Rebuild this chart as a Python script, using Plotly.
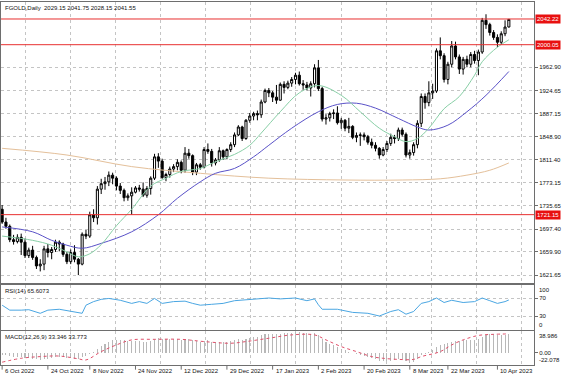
import plotly.graph_objects as go
import pandas as pd

# ---------------- data ----------------
dates = [d for d in pd.bdate_range("2022-10-06", "2023-04-13")
         if d.strftime("%Y-%m-%d") not in ("2022-12-26", "2023-01-02")]

opens = [1730,1709,1702,1680,1677,1684,1676,1654,1663,1651,1637,1640,1665,1659,1664,1676,1673,1656,
         1644,1659,1648,1640,1689,1686,1721,1716,1763,1772,1775,1786,1781,1768,1761,1749,1752,1758,1765,1763,1753,1764,
         1781,1816,1809,1782,1787,1796,1800,1807,1794,1822,1818,1791,1803,1799,1828,1825,1806,1811,1826,1816,1828,
         1836,1852,1865,1846,1876,1883,1887,1885,1906,1925,1921,1914,1909,1935,1930,1937,1943,1950,1936,1934,1929,
         1936,1962,1928,1878,1880,1887,1888,1872,1876,1863,1866,1848,1851,1852,1849,1840,1835,1830,1819,1828,
         1838,1848,1846,1860,1853,1819,1823,1836,1871,1915,1905,1921,1924,1990,1982,1943,1968,1998,1980,1960,1976,1968,1984,
         1974,1988,2040,2033,2020,2012,2004,2018,2029.15]
highs = [1737,1716,1705,1688,1689,1690,1682,1667,1670,1654,1648,1670,1673,1668,1680,1679,1675,1660,
         1664,1671,1650,1692,1696,1726,1730,1768,1780,1783,1792,1790,1784,1773,1764,1756,1766,1768,1770,1774,1768,1784,
         1821,1822,1813,1790,1800,1804,1812,1810,1832,1829,1820,1806,1806,1832,1838,1829,1814,1832,1828,1830,1840,
         1856,1868,1867,1878,1888,1890,1892,1910,1928,1929,1924,1934,1938,1940,1941,1947,1954,1956,1942,1939,1940,
         1968,1975,1931,1886,1890,1894,1899,1880,1878,1880,1868,1856,1856,1856,1852,1846,1840,1832,1832,1842,
         1854,1852,1864,1864,1856,1828,1840,1876,1920,1920,1940,1936,1994,2012,1986,1972,2006,2005,1984,1980,1982,1988,1990,
         1992,2044,2050,2036,2024,2017,2022,2040,2041.75]
lows = [1706,1698,1676,1672,1674,1655,1650,1650,1647,1632,1628,1630,1651,1648,1660,1661,1652,1640,
        1640,1643,1622,1638,1681,1683,1709,1705,1755,1762,1768,1771,1761,1755,1743,1744,1721,1756,1759,1750,1749,1754,
        1778,1798,1780,1776,1782,1791,1794,1789,1790,1813,1786,1786,1795,1797,1821,1800,1802,1808,1811,1812,1824,
        1832,1850,1842,1844,1872,1876,1876,1880,1904,1914,1906,1903,1908,1920,1927,1931,1935,1933,1926,1925,1915,
        1930,1924,1874,1869,1874,1878,1869,1862,1858,1855,1845,1840,1834,1843,1836,1830,1825,1813,1817,1824,
        1834,1838,1842,1849,1815,1813,1818,1830,1865,1895,1899,1911,1921,1976,1938,1935,1963,1976,1952,1951,1963,1963,1969,
        1950,1985,2026,2015,2008,1996,2000,2014,2028.15]
closes = [1709,1702,1680,1677,1684,1676,1654,1663,1651,1637,1640,1665,1659,1664,1676,1673,1656,1644,
          1659,1648,1640,1689,1686,1721,1716,1763,1772,1775,1786,1781,1768,1761,1749,1752,1758,1765,1763,1753,1764,1781,
          1816,1809,1782,1787,1796,1800,1807,1794,1822,1818,1791,1803,1799,1828,1825,1806,1811,1826,1816,1828,1836,
          1852,1865,1846,1876,1883,1887,1885,1906,1925,1921,1914,1909,1935,1930,1937,1943,1950,1936,1934,1929,1936,
          1962,1928,1878,1880,1887,1888,1872,1876,1863,1866,1848,1851,1852,1849,1840,1835,1830,1819,1828,1838,
          1848,1846,1860,1853,1819,1823,1836,1871,1915,1905,1921,1924,1990,1982,1943,1968,1998,1980,1960,1976,1968,1984,1974,
          1988,2040,2033,2020,2012,2004,2018,2029,2041.55]

ma_fast_idx = [0, 8, 13, 17, 20, 23, 26, 30, 34, 39, 43, 47, 52, 56, 61, 65, 68, 73, 78, 83, 89, 94, 99, 103, 106, 109, 112, 116, 120, 124, 126, 130, 133]
ma_fast_val = [1686, 1679, 1671, 1660, 1652, 1657, 1672, 1703, 1730, 1768, 1781, 1792, 1797, 1808, 1820, 1835, 1855, 1890, 1921, 1933, 1917, 1890, 1863, 1849, 1841, 1846, 1863, 1895, 1915, 1950, 1972, 1996, 2008]
ma_mid_idx = [0, 8, 13, 17, 21, 26, 34, 41, 46, 52, 56, 61, 66, 70, 76, 83, 88, 93, 98, 104, 109, 112, 117, 122, 127, 133]
ma_mid_val = [1701, 1693, 1679, 1671, 1666, 1674, 1693, 1721, 1748, 1775, 1789, 1797, 1816, 1835, 1863, 1890, 1902, 1904, 1896, 1879, 1865, 1860, 1868, 1890, 1917, 1956]
ma_slow_idx = [0, 17, 34, 52, 70, 90, 105, 115, 122, 128, 133]
ma_slow_val = [1830, 1819, 1800, 1789, 1781, 1778, 1778, 1780, 1786, 1794, 1806]

rsi_idx = [0, 2, 5, 7, 10, 12, 15, 18, 20, 21, 22, 24, 26, 28, 31, 34, 36, 38, 40, 42, 45, 48, 50, 52, 55, 58, 61, 64, 67, 70, 73, 77, 80, 82, 83, 84, 88, 92, 96, 99, 102, 104, 106, 108, 110, 112, 114, 116, 118, 121, 124, 126, 128, 130, 132, 133]
rsi_val = [54, 43, 43, 44, 36, 43, 45, 40, 37, 36, 54, 62, 67, 69, 65, 58, 62, 58, 69, 58, 62, 63, 58, 54, 56, 58, 64, 66, 68, 70, 68, 70, 64, 68, 55, 45, 45, 38, 36, 30, 40, 44, 34, 40, 58, 62, 70, 60, 65, 60, 62, 70, 64, 58, 62, 65.6]

macd_main = [-5,-5,-6,-7,-7,-8,-10,-10,-11,-12,-13,-11,-11,-10,-8,-7,-8,-10,-10,-11,-12,-8,-6,-2,1,7,12,16,20,22,
             23,23,22,21,21,21,21,20,20,21,24,26,25,24,24,24,24,23,24,24,22,21,20,21,22,20,19,20,19,20,
             21,22,24,23,25,27,28,29,31,33,34,34,33,34,35,35,36,38,37,36,35,34,35,32,25,20,16,13,10,7,
             4,2,-1,-3,-5,-6,-8,-10,-12,-14,-15,-15,-14,-13,-11,-11,-15,-18,-16,-11,-5,-2,2,4,10,14,15,17,20,21,
             21,22,22,23,23,24,28,32,33,33,32,32,32,33.35]
macd_sig_idx = [0, 5, 10, 15, 20, 22, 26, 30, 34, 40, 47, 53, 60, 64, 70, 76, 82, 85, 89, 93, 97, 100, 104, 108, 110, 115, 118, 121, 125, 129, 133]
macd_sig_val = [-17, -10, -7, -6, -11, -13, 2, 14, 23, 24, 24, 20, 17, 20, 26, 32, 32, 23, 11, 2, -7, -10, -12, -12, -7, 2, 14, 23, 31, 33, 33.77]

price_ticks = [1962.90, 1924.65, 1887.15, 1848.90, 1811.40, 1773.15, 1735.65, 1697.40, 1659.90, 1621.65]
level_prices = [2042.22, 2000.05, 1721.15]
date_tick_dates = ["2022-10-06", "2022-10-24", "2022-11-08", "2022-11-24", "2022-12-12", "2022-12-29",
                   "2023-01-17", "2023-02-02", "2023-02-20", "2023-03-08", "2023-03-22", "2023-04-10"]
date_tick_labels = ["6 Oct 2022", "24 Oct 2022", "8 Nov 2022", "24 Nov 2022", "12 Dec 2022", "29 Dec 2022",
                    "17 Jan 2023", "2 Feb 2023", "20 Feb 2023", "8 Mar 2023", "22 Mar 2023", "10 Apr 2023"]
title_text = "FGOLD,Daily  2029.15 2041.75 2028.15 2041.55"
rsi_text = "RSI(14) 65.6073"
macd_text = "MACD(12,26,9) 33.346 33.773"

# ---------------- figure ----------------
n = len(dates)
xs = list(range(n))
date_str = [d.strftime("%Y-%m-%d") for d in dates]
tick_idx = [date_str.index(d) for d in date_tick_dates]

FONT = "Liberation Sans"
FRAME = "#6e6e6e"
GRID = "#c4c4c4"

fig = go.Figure()

fig.add_trace(go.Candlestick(
    x=xs, open=opens, high=highs, low=lows, close=closes,
    increasing=dict(fillcolor="white", line=dict(color="black", width=1)),
    decreasing=dict(fillcolor="black", line=dict(color="black", width=1)),
    whiskerwidth=0, xaxis="x", yaxis="y", hoverinfo="skip", showlegend=False))

fig.add_trace(go.Scatter(x=ma_slow_idx, y=ma_slow_val, mode="lines", line=dict(color="#e4c09a", width=1, shape="spline"),
                         xaxis="x", yaxis="y", showlegend=False))
fig.add_trace(go.Scatter(x=ma_mid_idx, y=ma_mid_val, mode="lines", line=dict(color="#5a52c8", width=1, shape="spline"),
                         xaxis="x", yaxis="y", showlegend=False))
fig.add_trace(go.Scatter(x=ma_fast_idx, y=ma_fast_val, mode="lines", line=dict(color="#88cfa6", width=1, shape="spline"),
                         xaxis="x", yaxis="y", showlegend=False))

for lv in level_prices:
    fig.add_trace(go.Scatter(x=[-1, n + 10], y=[lv, lv], mode="lines", line=dict(color="#e83030", width=1),
                             xaxis="x", yaxis="y", showlegend=False, hoverinfo="skip"))

fig.add_trace(go.Scatter(x=rsi_idx, y=rsi_val, mode="lines", line=dict(color="#4aa6e2", width=1),
                         xaxis="x2", yaxis="y2", showlegend=False))

fig.add_trace(go.Bar(x=xs, y=macd_main, width=0.28, marker=dict(color="#b8b8b8", line=dict(width=0)),
                     xaxis="x3", yaxis="y3", showlegend=False))
fig.add_trace(go.Scatter(x=macd_sig_idx, y=macd_sig_val, mode="lines",
                         line=dict(color="#e0506a", width=1, dash="dot", shape="spline"),
                         xaxis="x3", yaxis="y3", showlegend=False))

H = 366.0  # bottom pixel of plotting area (margin top 1, bottom 10)
def dom(top_px, bot_px):
    return [(H - bot_px) / 365.0, (H - top_px) / 365.0]

grid_x = [6.0, 17.85, 29.7, 41.55, 53.4, 65.25, 77.1, 88.95, 100.8, 112.65, 124.5, 136.35]
xr = [-0.3, 139.6]
xcommon = dict(range=xr, showline=True, mirror=True, linecolor=FRAME, linewidth=1, zeroline=False,
               tickmode="array", tickvals=grid_x, showticklabels=False, ticks="",
               showgrid=True, gridcolor=GRID, griddash="dot", gridwidth=1, fixedrange=True)
ycommon = dict(side="right", showline=True, mirror=True, linecolor=FRAME, linewidth=1, zeroline=False,
               ticks="outside", ticklen=3, tickcolor=FRAME, tickfont=dict(family=FONT, size=6, color="#111"),
               showgrid=True, gridcolor=GRID, griddash="dot", gridwidth=1, fixedrange=True)

fig.update_layout(
    width=564, height=376, margin=dict(l=1, r=30, t=1, b=10),
    paper_bgcolor="white", plot_bgcolor="white", bargap=0, boxgap=0.22,
    font=dict(family=FONT, size=6, color="#111"), hovermode=False,
    xaxis=dict(**xcommon, domain=[0, 1], anchor="y", rangeslider=dict(visible=False)),
    xaxis2=dict(**xcommon, domain=[0, 1], anchor="y2", matches="x"),
    xaxis3=dict(**xcommon, domain=[0, 1], anchor="y3", matches="x"),
    yaxis=dict(**ycommon, domain=dom(2, 283), range=[1609.0, 2070.1], tickvals=price_ticks,
               ticktext=["%.2f" % v for v in price_ticks], anchor="x"),
    yaxis2=dict(**ycommon, domain=dom(284.5, 329.5), range=[0, 100], tickvals=[70, 30],
                ticktext=["70", "30"], anchor="x2"),
    yaxis3=dict(**ycommon, domain=dom(331, 365), range=[-22.078, 38.986], tickvals=[0],
                ticktext=["0.00"], anchor="x3"),
)
fig.update_yaxes(showgrid=False, selector=dict(anchor="x3"))

ann = []
ann.append(dict(text=title_text, xref="paper", yref="paper", x=0, y=1, xanchor="left", yanchor="top",
                xshift=2, yshift=-2, showarrow=False, font=dict(family=FONT, size=6, color="#111")))
ann.append(dict(text=rsi_text, xref="paper", yref="y2 domain", x=0, y=1, xanchor="left", yanchor="top",
                xshift=2, yshift=-1, showarrow=False, font=dict(family=FONT, size=6, color="#111")))
ann.append(dict(text=macd_text, xref="paper", yref="y3 domain", x=0, y=1, xanchor="left", yanchor="top",
                xshift=2, yshift=-1, showarrow=False, font=dict(family=FONT, size=6, color="#111")))
for lv in level_prices:
    ann.append(dict(text="%.2f" % lv, xref="paper", yref="y", x=1, y=lv, xanchor="left", yanchor="middle",
                    xshift=1, showarrow=False, bgcolor="#e81010", borderpad=1,
                    font=dict(family=FONT, size=6, color="white")))
ann.append(dict(text="100", xref="paper", yref="y2 domain", x=1, y=1, xanchor="left", yanchor="top",
                xshift=3, showarrow=False, font=dict(family=FONT, size=6, color="#111")))
ann.append(dict(text="0", xref="paper", yref="y2 domain", x=1, y=0, xanchor="left", yanchor="bottom",
                xshift=3, showarrow=False, font=dict(family=FONT, size=6, color="#111")))
ann.append(dict(text="38.986", xref="paper", yref="y3 domain", x=1, y=1, xanchor="left", yanchor="top",
                xshift=3, showarrow=False, font=dict(family=FONT, size=6, color="#111")))
ann.append(dict(text="-22.078", xref="paper", yref="y3 domain", x=1, y=0, xanchor="left", yanchor="bottom",
                xshift=3, showarrow=False, font=dict(family=FONT, size=6, color="#111")))
for ti, lab in zip(tick_idx, date_tick_labels):
    ann.append(dict(text=lab, xref="x3", yref="paper", x=ti, y=0, xanchor="left", yanchor="top",
                    xshift=1, yshift=0, showarrow=False, font=dict(family=FONT, size=6, color="#111")))
fig.update_layout(annotations=ann)

shapes = []
for ti in tick_idx:
    shapes.append(dict(type="line", xref="x3", yref="paper", x0=ti, x1=ti, y0=0, y1=-0.01,
                       line=dict(color=FRAME, width=1)))
fig.update_layout(shapes=shapes)

fig.write_html("out.html", config={"displayModeBar": False, "staticPlot": True},
               post_script="document.body.style.margin='0';document.body.style.overflow='hidden';")
